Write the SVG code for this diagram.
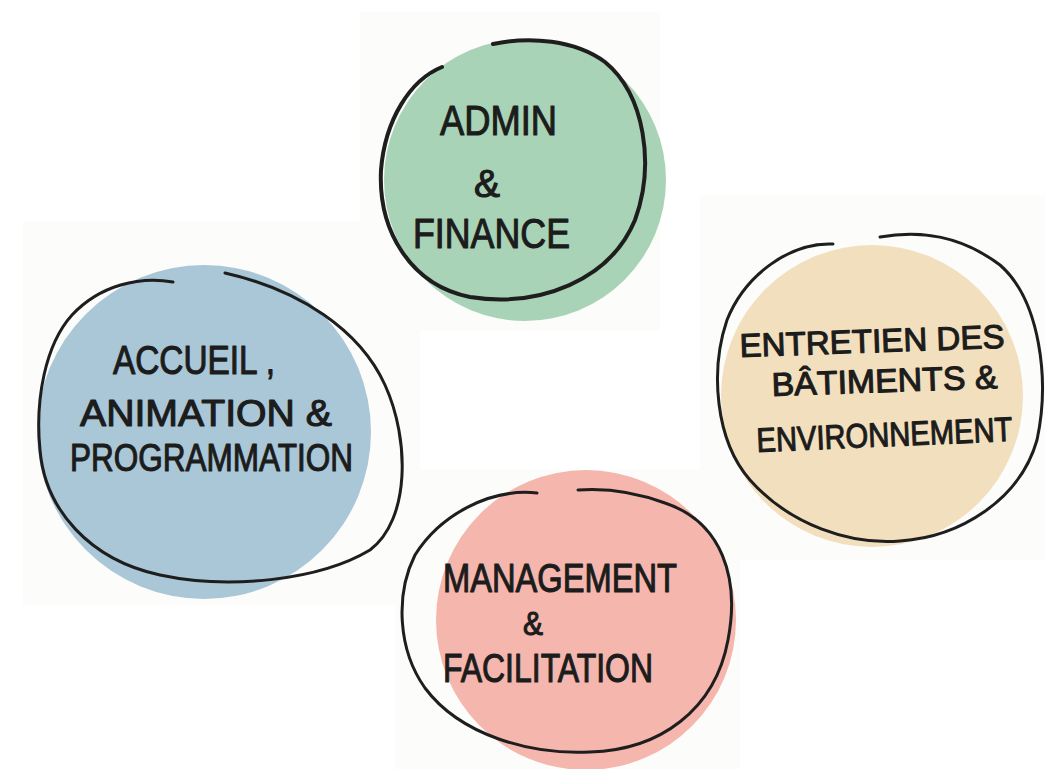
<svg xmlns="http://www.w3.org/2000/svg" width="1045" height="769" viewBox="0 0 1045 769">
  <style>
    .paper { fill: #fcfcfb; }
    .ring { fill: none; stroke: #1e1e1e; stroke-width: 3; stroke-linecap: round; stroke-linejoin: round; }
    .lbl { font-family: "Liberation Sans", Arial, sans-serif; fill: #1c1c1c; stroke: #1c1c1c; stroke-width: 1.1; stroke-linejoin: round; }
  </style>
  <rect width="1045" height="769" fill="#ffffff"/>
  <g id="paper">
    <rect class="paper" x="360" y="12" width="300" height="318"/>
    <rect class="paper" x="23" y="222" width="397" height="383"/>
    <rect class="paper" x="700" y="195" width="345" height="365"/>
    <rect class="paper" x="395" y="470" width="345" height="299"/>
  </g>

  <g id="admin-finance">
    <circle cx="525" cy="180" r="141" fill="#a9d3b6"/>
    <path class="ring" style="stroke-width:4" d="M442,67 C410,80 385,120 381,170 C378,230 410,285 470,297 C540,308 610,280 635,220 C655,165 645,95 605,62 C575,40 530,36 493,44"/>
    <text class="lbl" font-size="42" x="440" y="135" textLength="117" lengthAdjust="spacingAndGlyphs">ADMIN</text>
    <text class="lbl" font-size="38" x="474" y="197" textLength="26" lengthAdjust="spacingAndGlyphs">&amp;</text>
    <text class="lbl" font-size="42" x="413" y="248" textLength="157" lengthAdjust="spacingAndGlyphs">FINANCE</text>
  </g>

  <g id="accueil">
    <circle cx="204" cy="432" r="167" fill="#a9c7d7"/>
    <path class="ring" d="M173,282 C140,276 100,285 72,315 C45,345 35,400 40,450 C45,510 90,560 160,575 C230,590 320,580 370,550 C410,520 410,440 385,385 C360,330 300,290 225,273"/>
    <text class="lbl" font-size="40" x="113" y="374" textLength="162" lengthAdjust="spacingAndGlyphs">ACCUEIL ,</text>
    <text class="lbl" font-size="36" x="80" y="426" textLength="252" lengthAdjust="spacingAndGlyphs">ANIMATION &amp;</text>
    <text class="lbl" font-size="38" x="70" y="471" textLength="283" lengthAdjust="spacingAndGlyphs">PROGRAMMATION</text>
  </g>

  <g id="entretien">
    <circle cx="872" cy="396" r="151" fill="#f2dfbd"/>
    <path class="ring" d="M833,244 C790,242 745,275 727,320 C710,370 715,440 750,480 C790,525 850,545 900,541 C960,537 1020,500 1037,440 C1050,380 1040,300 1000,265 C960,235 920,230 880,237"/>
    <text class="lbl" font-size="33" x="740" y="357" textLength="265" lengthAdjust="spacingAndGlyphs" transform="rotate(-2 740 357)">ENTRETIEN DES</text>
    <text class="lbl" font-size="33" x="772" y="396" textLength="226" lengthAdjust="spacingAndGlyphs" transform="rotate(-2 772 396)">BÂTIMENTS &amp;</text>
    <text class="lbl" font-size="34" x="757" y="452" textLength="256" lengthAdjust="spacingAndGlyphs" transform="rotate(-2.5 757 452)">ENVIRONNEMENT</text>
  </g>

  <g id="management">
    <circle cx="586" cy="620" r="150" fill="#f4b6ad"/>
    <path class="ring" d="M537,493 C490,488 440,515 415,555 C395,595 398,650 425,688 C460,735 530,755 590,752 C660,750 715,710 728,640 C740,578 722,522 665,503 C635,492 605,488 578,490"/>
    <text class="lbl" font-size="40" x="443" y="592" textLength="234" lengthAdjust="spacingAndGlyphs">MANAGEMENT</text>
    <text class="lbl" font-size="34" x="523" y="635" textLength="20" lengthAdjust="spacingAndGlyphs">&amp;</text>
    <text class="lbl" font-size="40" x="443" y="682" textLength="210" lengthAdjust="spacingAndGlyphs">FACILITATION</text>
  </g>
</svg>
